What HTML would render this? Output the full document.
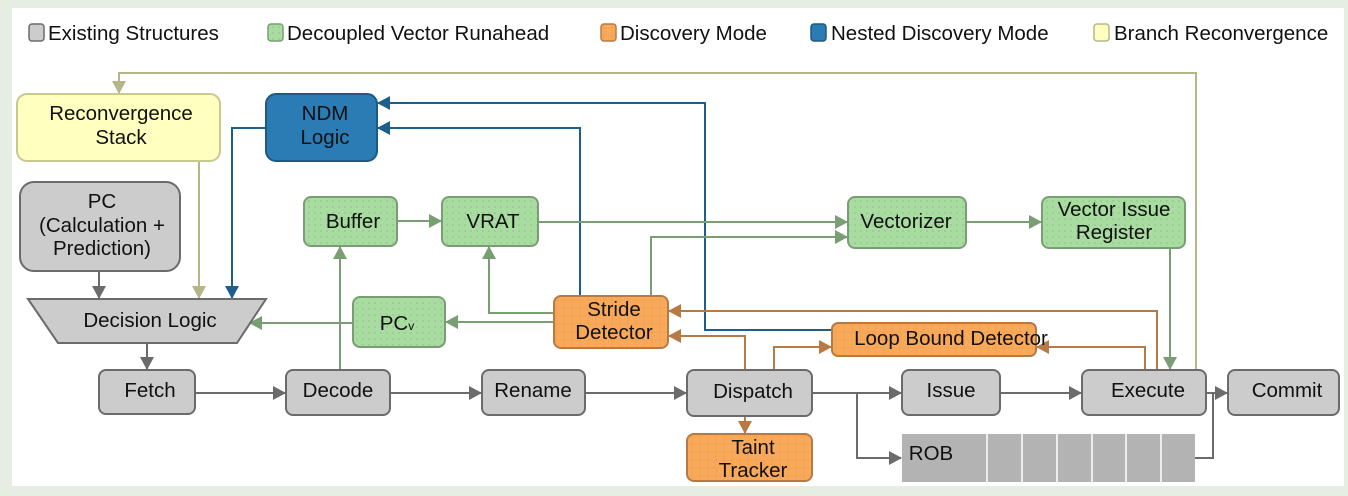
<!DOCTYPE html>
<html><head><meta charset="utf-8"><style>
html,body{margin:0;padding:0;background:#e6ede3;}
svg{display:block;}
text{font-family:"Liberation Sans",Arial,sans-serif;font-size:20.5px;fill:#111;}
</style></head><body>
<svg width="1348" height="496" viewBox="0 0 1348 496" xmlns="http://www.w3.org/2000/svg">
<defs>
<pattern id="dots" width="6" height="6" patternUnits="userSpaceOnUse"><rect width="6" height="6" fill="#a9dca0"/><circle cx="3" cy="3" r="0.6" fill="#7fae78"/></pattern>
<pattern id="grid" width="8" height="8" patternUnits="userSpaceOnUse"><rect width="8" height="8" fill="#f9a95a"/><path d="M0 4H8M4 0V8" stroke="#e0934a" stroke-width="0.6" stroke-dasharray="1 1"/></pattern>
<marker id="ag" markerWidth="13" markerHeight="14" refX="12" refY="7" orient="auto" markerUnits="userSpaceOnUse"><path d="M0,0 L13,7 L0,14z" fill="#6b6b6b"/></marker>
<marker id="agr" markerWidth="13" markerHeight="14" refX="12" refY="7" orient="auto" markerUnits="userSpaceOnUse"><path d="M0,0 L13,7 L0,14z" fill="#7a9e74"/></marker>
<marker id="ao" markerWidth="13" markerHeight="14" refX="12" refY="7" orient="auto" markerUnits="userSpaceOnUse"><path d="M0,0 L13,7 L0,14z" fill="#b87a45"/></marker>
<marker id="ab" markerWidth="13" markerHeight="14" refX="12" refY="7" orient="auto" markerUnits="userSpaceOnUse"><path d="M0,0 L13,7 L0,14z" fill="#1d5f8a"/></marker>
<marker id="ay" markerWidth="13" markerHeight="14" refX="12" refY="7" orient="auto" markerUnits="userSpaceOnUse"><path d="M0,0 L13,7 L0,14z" fill="#b5b58a"/></marker>
</defs>
<rect x="12" y="8" width="1332" height="478" fill="#fff"/>

<!-- legend -->
<rect x="29" y="24" width="15" height="17" rx="3" fill="#cccccc" stroke="#6b6b6b" stroke-width="1.5"/>
<text x="48" y="40">Existing Structures</text>
<rect x="268" y="24" width="15" height="17" rx="3" fill="url(#dots)" stroke="#7a9e74" stroke-width="1.5"/>
<text x="287" y="40">Decoupled Vector Runahead</text>
<rect x="601" y="24" width="15" height="17" rx="3" fill="url(#grid)" stroke="#b87a45" stroke-width="1.5"/>
<text x="620" y="40">Discovery Mode</text>
<rect x="811" y="24" width="15" height="17" rx="3" fill="#2b7bb5" stroke="#1d5a80" stroke-width="1.5"/>
<text x="831" y="40">Nested Discovery Mode</text>
<rect x="1094" y="24" width="15" height="17" rx="3" fill="#ffffc0" stroke="#b5b58a" stroke-width="1.5"/>
<text x="1114" y="40">Branch Reconvergence</text>

<g fill="none" stroke-width="2">
<polyline points="1196,370 1196,73 119,73 119,93" stroke="#b5b58a" marker-end="url(#ay)"/>
<polyline points="199,161 199,298" stroke="#b5b58a" marker-end="url(#ay)"/>
<polyline points="266,128 232,128 232,298" stroke="#1d5f8a" marker-end="url(#ab)"/>
<polyline points="832,330 705,330 705,103 378,103" stroke="#1d5f8a" marker-end="url(#ab)"/>
<polyline points="580,296 580,128 378,128" stroke="#1d5f8a" marker-end="url(#ab)"/>
<polyline points="397,221 441,221" stroke="#7a9e74" marker-end="url(#agr)"/>
<polyline points="538,222 847,222" stroke="#7a9e74" marker-end="url(#agr)"/>
<polyline points="651,296 651,237 847,237" stroke="#7a9e74" marker-end="url(#agr)"/>
<polyline points="966,222 1041,222" stroke="#7a9e74" marker-end="url(#agr)"/>
<polyline points="1170,248 1170,369" stroke="#7a9e74" marker-end="url(#agr)"/>
<polyline points="340,370 340,247" stroke="#7a9e74" marker-end="url(#agr)"/>
<polyline points="554,313 489,313 489,247" stroke="#7a9e74" marker-end="url(#agr)"/>
<polyline points="554,322 446,322" stroke="#7a9e74" marker-end="url(#agr)"/>
<polyline points="353,323 250,323" stroke="#7a9e74" marker-end="url(#agr)"/>
<polyline points="1157,370 1157,311 669,311" stroke="#b87a45" marker-end="url(#ao)"/>
<polyline points="745,370 745,336 669,336" stroke="#b87a45" marker-end="url(#ao)"/>
<polyline points="774,370 774,347 831,347" stroke="#b87a45" marker-end="url(#ao)"/>
<polyline points="1145,370 1145,347 1037,347" stroke="#b87a45" marker-end="url(#ao)"/>
<polyline points="745,416 745,433" stroke="#b87a45" marker-end="url(#ao)"/>
<polyline points="99,271 99,298" stroke="#6b6b6b" marker-end="url(#ag)"/>
<polyline points="147,343 147,369" stroke="#6b6b6b" marker-end="url(#ag)"/>
<polyline points="195,393 285,393" stroke="#6b6b6b" marker-end="url(#ag)"/>
<polyline points="390,393 481,393" stroke="#6b6b6b" marker-end="url(#ag)"/>
<polyline points="585,393 686,393" stroke="#6b6b6b" marker-end="url(#ag)"/>
<polyline points="812,393 901,393" stroke="#6b6b6b" marker-end="url(#ag)"/>
<polyline points="857,393 857,458 901,458" stroke="#6b6b6b" marker-end="url(#ag)"/>
<polyline points="1000,393 1081,393" stroke="#6b6b6b" marker-end="url(#ag)"/>
<polyline points="1206,393 1227,393" stroke="#6b6b6b" marker-end="url(#ag)"/>
<polyline points="1195,458 1213,458 1213,393" stroke="#6b6b6b"/>
</g>

<g stroke-width="2">
<rect x="17" y="94" width="203" height="67" rx="10" fill="#ffffc0" stroke="#c9c98f"/>
<rect x="266" y="94" width="111" height="67" rx="10" fill="#2b7bb5" stroke="#1d5a80"/>
<rect x="20" y="182" width="160" height="89" rx="14" fill="#cccccc" stroke="#6b6b6b"/>
<polygon points="28,299 266,299 237,343 58,343" fill="#cccccc" stroke="#6b6b6b"/>
<rect x="99" y="370" width="96" height="44" rx="7" fill="#cccccc" stroke="#6b6b6b"/>
<rect x="286" y="370" width="104" height="45" rx="7" fill="#cccccc" stroke="#6b6b6b"/>
<rect x="482" y="370" width="103" height="45" rx="7" fill="#cccccc" stroke="#6b6b6b"/>
<rect x="687" y="370" width="125" height="46" rx="7" fill="#cccccc" stroke="#6b6b6b"/>
<rect x="902" y="370" width="98" height="45" rx="7" fill="#cccccc" stroke="#6b6b6b"/>
<rect x="1082" y="370" width="124" height="45" rx="7" fill="#cccccc" stroke="#6b6b6b"/>
<rect x="1228" y="370" width="111" height="45" rx="7" fill="#cccccc" stroke="#6b6b6b"/>
<rect x="687" y="434" width="125" height="47" rx="7" fill="url(#grid)" stroke="#b87a45"/>
<rect x="554" y="296" width="114" height="52" rx="7" fill="url(#grid)" stroke="#b87a45"/>
<rect x="832" y="323" width="204" height="33" rx="6" fill="url(#grid)" stroke="#b87a45"/>
<rect x="304" y="197" width="93" height="49" rx="7" fill="url(#dots)" stroke="#7a9e74"/>
<rect x="442" y="197" width="96" height="49" rx="7" fill="url(#dots)" stroke="#7a9e74"/>
<rect x="353" y="297" width="92" height="50" rx="7" fill="url(#dots)" stroke="#7a9e74"/>
<rect x="848" y="197" width="118" height="51" rx="7" fill="url(#dots)" stroke="#7a9e74"/>
<rect x="1042" y="197" width="143" height="51" rx="7" fill="url(#dots)" stroke="#7a9e74"/>
</g>
<rect x="902" y="434" width="293" height="48" fill="#b3b3b3"/>
<g stroke="#fff" stroke-width="1.5">
<line x1="987" y1="434" x2="987" y2="482"/><line x1="1022" y1="434" x2="1022" y2="482"/>
<line x1="1057" y1="434" x2="1057" y2="482"/><line x1="1092" y1="434" x2="1092" y2="482"/>
<line x1="1126" y1="434" x2="1126" y2="482"/><line x1="1161" y1="434" x2="1161" y2="482"/>
</g>

<g text-anchor="middle">
<text x="121" y="120">Reconvergence</text><text x="121" y="144">Stack</text>
<text x="325" y="120">NDM</text><text x="325" y="144">Logic</text>
<text x="102" y="208">PC</text><text x="102" y="232">(Calculation +</text><text x="102" y="255">Prediction)</text>
<text x="150" y="327">Decision Logic</text>
<text x="150" y="397">Fetch</text>
<text x="338" y="397">Decode</text>
<text x="533" y="397">Rename</text>
<text x="753" y="398">Dispatch</text>
<text x="951" y="397">Issue</text>
<text x="1148" y="397">Execute</text>
<text x="1287" y="397">Commit</text>
<text x="931" y="460">ROB</text>
<text x="753" y="454">Taint</text><text x="753" y="477">Tracker</text>
<text x="614" y="316">Stride</text><text x="614" y="339">Detector</text>
<text x="951" y="345">Loop Bound Detector</text>
<text x="353" y="228">Buffer</text>
<text x="493" y="228">VRAT</text>
<text x="397" y="330">PC<tspan font-size="12">v</tspan></text>
<text x="906" y="228">Vectorizer</text>
<text x="1114" y="216">Vector Issue</text><text x="1114" y="239">Register</text>
</g>
</svg>
</body></html>
